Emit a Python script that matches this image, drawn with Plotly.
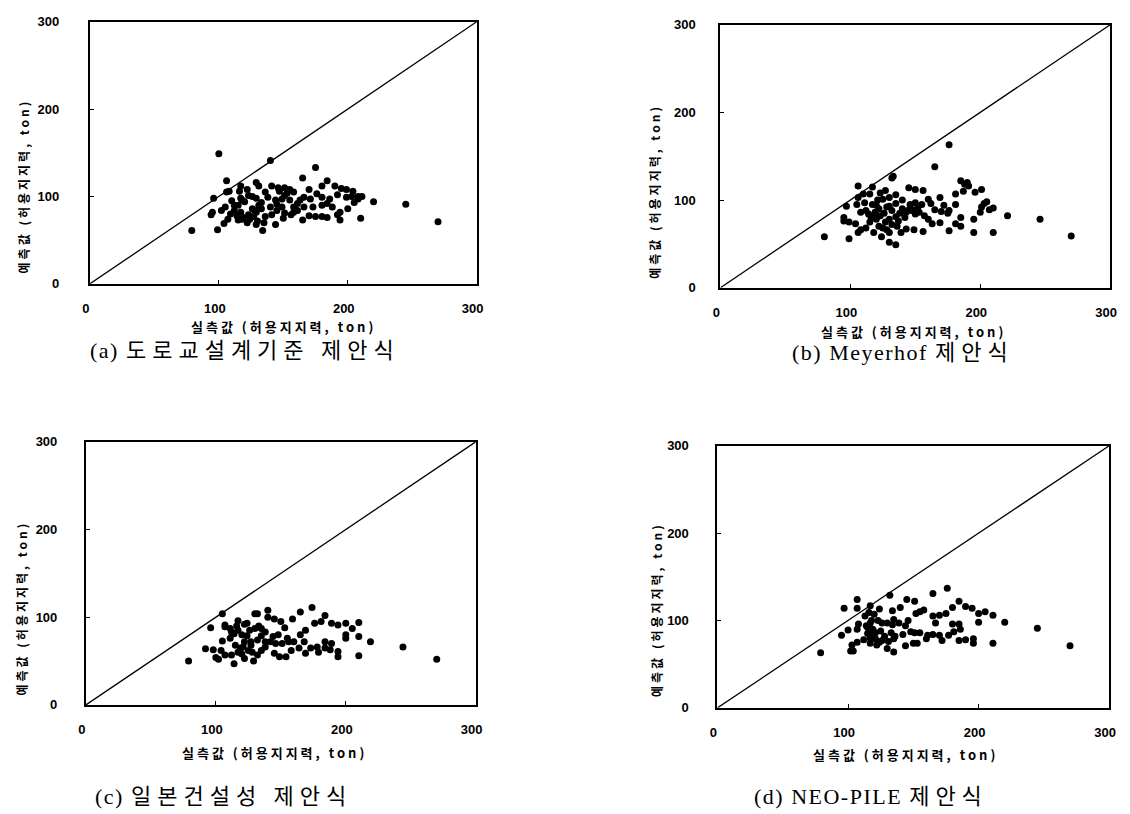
import plotly.graph_objects as go

W, H = 1130, 814

# ---------------- data ----------------
a_x = [100, 140, 175, 165, 106, 129, 184, 180, 190, 117, 141, 146, 151, 155, 158, 170, 195, 199, 204, 208,
       199, 203, 96, 106, 108, 116, 220, 245, 270, 210, 200, 194, 194, 184, 180, 176, 171, 166, 161, 158,
       166, 173, 180, 170, 175, 180, 184, 156, 151, 150, 158, 144, 134, 129, 122, 115, 107, 104, 99, 79,
       94, 95, 105, 141, 136, 127, 115, 123, 131, 123, 117, 129, 117, 129, 112, 114, 118, 124, 130, 135,
       128, 133, 138, 144, 149, 151, 145, 149, 140, 145, 126, 118, 110, 112, 136, 131, 122, 102, 109, 155,
       163, 186, 192, 205, 208, 211, 188, 161, 165, 192, 147, 153, 120, 126, 133, 119]
a_y = [149, 141, 133, 121, 118, 116, 118, 112, 112, 112, 112, 110, 110, 108, 105, 108, 109, 108, 106, 100,
       99, 100, 98, 105, 106, 106, 94, 91, 71, 75, 86, 82, 73, 92, 99, 103, 97, 99, 92, 88,
       88, 88, 90, 78, 77, 77, 76, 79, 81, 75, 82, 68, 61, 68, 70, 73, 74, 69, 62, 61,
       79, 82, 88, 79, 77, 77, 90, 101, 90, 79, 82, 82, 98, 98, 84, 78, 74, 74, 72, 70,
       84, 86, 99, 96, 97, 101, 91, 88, 88, 84, 100, 96, 95, 90, 105, 112, 108, 84, 80, 96,
       96, 97, 102, 93, 97, 100, 88, 84, 73, 79, 106, 104, 94, 86, 93, 76]

b_x = [176, 165, 132, 106, 117, 110, 106, 97, 105, 108, 95, 99, 95, 106, 99, 80, 111, 115, 123, 125,
       120, 118, 115, 120, 122, 118, 124, 130, 135, 130, 139, 136, 130, 135, 130, 135, 135, 130, 145, 150,
       156, 160, 169, 150, 145, 143, 148, 153, 157, 160, 165, 170, 143, 149, 156, 169, 163, 176, 176, 181,
       181, 185, 188, 191, 196, 201, 205, 210, 201, 200, 195, 181, 185, 185, 195, 210, 221, 246, 270, 112,
       114, 116, 119, 122, 126, 127, 125, 128, 132, 138, 140, 142, 146, 152, 155, 140, 132, 108, 104, 112,
       117, 121, 127, 133, 147, 150, 162, 172, 175, 190, 187, 203, 207, 123, 128, 137]
b_y = [163, 138, 125, 116, 115, 107, 103, 93, 95, 86, 80, 75, 76, 63, 56, 58, 97, 107, 108, 101,
       94, 82, 75, 78, 70, 63, 58, 52, 49, 63, 63, 70, 78, 81, 93, 96, 106, 103, 114, 112,
       111, 101, 103, 97, 89, 86, 89, 86, 82, 78, 89, 87, 67, 66, 64, 74, 73, 65, 88, 95,
       107, 122, 118, 116, 109, 112, 98, 91, 92, 86, 78, 73, 80, 70, 63, 63, 82, 78, 59, 88,
       84, 80, 86, 90, 85, 75, 68, 66, 72, 85, 90, 80, 95, 92, 95, 100, 88, 66, 73, 68,
       95, 100, 111, 127, 88, 84, 96, 94, 85, 120, 110, 96, 89, 82, 92, 76]

c_x = [105, 174, 140, 165, 130, 132, 184, 96, 107, 107, 117, 122, 124, 133, 140, 145, 150, 159, 153, 165,
       169, 176, 181, 189, 194, 200, 210, 205, 200, 200, 210, 219, 244, 270, 210, 194, 194, 184, 184, 179,
       169, 173, 164, 158, 154, 149, 145, 138, 132, 129, 122, 114, 112, 102, 100, 92, 98, 79, 105, 107,
       111, 115, 119, 122, 124, 127, 132, 135, 138, 142, 146, 151, 156, 111, 114, 130, 135, 144, 117, 120,
       125, 128, 135, 112, 117, 120, 126, 148, 155, 160, 189, 188, 178, 168, 116, 121, 127, 138, 104]
c_y = [104, 111, 108, 106, 104, 104, 102, 88, 91, 89, 96, 92, 93, 90, 100, 98, 95, 98, 88, 80,
       85, 93, 95, 93, 91, 93, 94, 87, 80, 76, 78, 72, 66, 52, 56, 61, 55, 72, 65, 60,
       59, 65, 65, 62, 55, 55, 59, 66, 57, 50, 53, 47, 57, 52, 54, 64, 63, 50, 73, 57,
       76, 68, 65, 72, 79, 72, 74, 79, 72, 72, 70, 70, 72, 87, 81, 87, 87, 78, 60, 58,
       62, 60, 62, 83, 85, 80, 85, 80, 76, 72, 70, 63, 66, 72, 90, 66, 68, 83, 62]

d_x = [176, 165, 132, 145, 151, 107, 97, 107, 117, 124, 134, 140, 113, 116, 158, 152, 155, 165, 170, 175,
       180, 185, 190, 195, 200, 205, 211, 200, 220, 245, 270, 211, 196, 196, 185, 181, 185, 180, 172, 170,
       177, 165, 161, 160, 155, 151, 153, 150, 144, 135, 130, 122, 117, 107, 103, 102, 104, 79, 95, 100,
       107, 115, 119, 121, 126, 131, 135, 136, 114, 117, 119, 130, 134, 139, 144, 146, 135, 123, 118, 125,
       128, 142, 148, 167, 190, 186, 120, 126, 112, 108, 117, 121, 124, 133, 115]
d_y = [137, 131, 129, 124, 122, 124, 114, 114, 117, 113, 111, 115, 105, 109, 112, 108, 110, 105, 106, 108,
       115, 122, 116, 114, 108, 110, 106, 98, 98, 91, 71, 74, 74, 79, 77, 87, 96, 96, 77, 83,
       83, 84, 83, 79, 86, 86, 74, 74, 71, 64, 68, 72, 74, 75, 72, 65, 65, 63, 83, 89,
       90, 85, 83, 79, 77, 76, 79, 82, 94, 97, 90, 97, 95, 97, 94, 100, 101, 100, 100, 88,
       82, 84, 87, 97, 78, 90, 107, 97, 78, 96, 80, 86, 75, 86, 92]

diag_xy = [0, 300]
tick_vals = [0, 100, 200, 300]
captions = ["(a) 도로교설계기준 제안식", "(b) Meyerhof 제안식",
            "(c) 일본건설성 제안식", "(d) NEO-PILE 제안식"]
x_title = "실측값 (허용지지력, ton)"
y_title = "예측값 (허용지지력, ton)"

series = [(a_x, a_y), (b_x, b_y), (c_x, c_y), (d_x, d_y)]

# ---------------- layout geometry (pixels) ----------------
boxes = [(83, 475, 15, 282), (722, 1117, 18, 286), (79, 474, 443, 711), (719, 1116, 447, 714)]
xtitle_pos = [(279, 325), (918, 331), (270, 759), (910, 762)]
ytitle_pos = [(16, 182), (655, 188), (14, 612), (657, 614)]
caption_pos = [(240, 350), (907, 352), (218, 804), (875, 804)]
ytick_standoff = [26, 20, 24, 24]


def px(x):
    return x / W


def py(y):
    return 1 - y / H


def spaced(text, sp):
    return '<span style="letter-spacing:%gpx">%s</span>' % (sp, text)


def caption_markup(text, sp_kor=6, sp_lat=1.5):
    # wider tracking for Hangul runs, tighter for Latin runs
    out, run, run_is_kor = [], "", None
    for ch in text:
        is_kor = "\uac00" <= ch <= "\ud7a3" or (ch == " " and run_is_kor)
        if run_is_kor is None or is_kor == run_is_kor:
            run += ch
        else:
            out.append(spaced(run, sp_kor if run_is_kor else sp_lat))
            run = ch
        run_is_kor = is_kor
    out.append(spaced(run, sp_kor if run_is_kor else sp_lat))
    return "".join(out)


fig = go.Figure()
layout = dict(
    width=W, height=H, margin=dict(l=0, r=0, t=0, b=0),
    paper_bgcolor="white", plot_bgcolor="white", showlegend=False,
)
annotations = []
tick_font = dict(family="Liberation Sans, Arial, sans-serif", size=13, color="black", weight="bold")
kfont = "Noto Sans CJK KR, sans-serif"

for i, ((sx, sy), (l, r, t, b)) in enumerate(zip(series, boxes)):
    n = "" if i == 0 else str(i + 1)
    xa, ya = "x" + n, "y" + n
    fig.add_trace(go.Scatter(x=diag_xy, y=diag_xy, mode="lines", xaxis=xa, yaxis=ya,
                             line=dict(color="black", width=1.3), hoverinfo="skip"))
    fig.add_trace(go.Scatter(x=sx, y=sy, mode="markers", xaxis=xa, yaxis=ya,
                             marker=dict(color="black", size=7, line=dict(width=0))))
    axis_common = dict(range=[0, 300], tickvals=tick_vals, showgrid=False, zeroline=False,
                       showline=True, linecolor="black", linewidth=2, mirror=True,
                       ticks="inside", ticklen=4, tickwidth=1, tickcolor="black",
                       tickfont=tick_font)
    layout["xaxis" + n] = dict(axis_common, domain=[px(l), px(r)], anchor=ya,
                               ticklabelstandoff=12, ticklabelshift=-4)
    layout["yaxis" + n] = dict(axis_common, domain=[py(b), py(t)], anchor=xa,
                               ticklabelstandoff=ytick_standoff[i])
    xt = xtitle_pos[i]
    annotations.append(dict(text=spaced(x_title, 3), x=px(xt[0]), y=py(xt[1]),
                            xref="paper", yref="paper",
                            xanchor="center", yanchor="middle", showarrow=False,
                            font=dict(family=kfont, size=13, color="black", weight="bold")))
    yt = ytitle_pos[i]
    annotations.append(dict(text=spaced(y_title, 3), x=px(yt[0]), y=py(yt[1]),
                            xref="paper", yref="paper",
                            xanchor="center", yanchor="middle", showarrow=False, textangle=-90,
                            font=dict(family=kfont, size=12, color="black", weight="bold")))
    cp = caption_pos[i]
    annotations.append(dict(text=caption_markup(captions[i]), x=px(cp[0]), y=py(cp[1]),
                            xref="paper", yref="paper",
                            xanchor="center", yanchor="middle", showarrow=False,
                            font=dict(family="Liberation Serif, Noto Sans CJK KR, serif", size=22,
                                      color="black")))

layout["annotations"] = annotations
fig.update_layout(**layout)
fig.write_html("out.html")
